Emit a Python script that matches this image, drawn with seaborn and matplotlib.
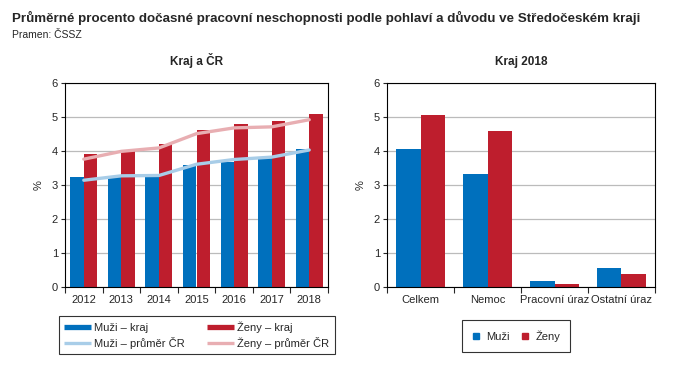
import pandas as pd
import numpy as np
import matplotlib.pyplot as plt
import seaborn as sns
from matplotlib.lines import Line2D

# data
years = ['2012', '2013', '2014', '2015', '2016', '2017', '2018']
muzi_kraj = [3.23, 3.27, 3.28, 3.60, 3.67, 3.82, 4.07]
zeny_kraj = [3.92, 4.00, 4.22, 4.63, 4.80, 4.89, 5.10]
muzi_cr = [3.14, 3.27, 3.28, 3.61, 3.75, 3.82, 4.03]
zeny_cr = [3.76, 3.99, 4.09, 4.51, 4.68, 4.71, 4.92]

duvody = ['Celkem', 'Nemoc', 'Pracovní úraz', 'Ostatní úraz']
muzi_2018 = [4.07, 3.33, 0.19, 0.57]
zeny_2018 = [5.07, 4.60, 0.10, 0.39]

blue = '#0070BD'
red = '#BE1E2D'
lblue = '#A8CDE8'
pink = '#E8AEB2'

sns.set_style('white')
plt.rcParams['font.family'] = ['Liberation Sans', 'DejaVu Sans']

fig = plt.figure(figsize=(6.8, 3.68), dpi=100)
ax1 = fig.add_axes([65/680, 1-287/368, 263/680, 204/368])
ax2 = fig.add_axes([387/680, 1-287/368, 268/680, 204/368])

fig.text(12/680, 1-18/368, 'Průměrné procento dočasné pracovní neschopnosti podle pohlaví a důvodu ve Středočeském kraji',
         fontsize=9.6, fontweight='bold', va='center')
fig.text(12/680, 1-35/368, 'Pramen: ČSSZ', fontsize=7.5, va='center')

# left chart
df1 = pd.DataFrame({'rok': years * 2,
                    'val': muzi_kraj + zeny_kraj,
                    'serie': ['Muži – kraj'] * 7 + ['Ženy – kraj'] * 7})
sns.barplot(data=df1, x='rok', y='val', hue='serie', palette=[blue, red],
            width=0.72, saturation=1, linewidth=0, ax=ax1, legend=False)
pos = np.arange(len(years))
sns.lineplot(x=pos, y=muzi_cr, color=lblue, linewidth=2.4, ax=ax1)
sns.lineplot(x=pos, y=zeny_cr, color=pink, linewidth=2.4, ax=ax1)
ax1.set_title('Kraj a ČR', fontsize=8.5, fontweight='bold', pad=13)

# right chart
df2 = pd.DataFrame({'duvod': duvody * 2,
                    'val': muzi_2018 + zeny_2018,
                    'serie': ['Muži'] * 4 + ['Ženy'] * 4})
sns.barplot(data=df2, x='duvod', y='val', hue='serie', palette=[blue, red],
            width=0.72, saturation=1, linewidth=0, ax=ax2, legend=False)
ax2.set_title('Kraj 2018', fontsize=8.5, fontweight='bold', pad=13)

for ax, n in [(ax1, len(years)), (ax2, len(duvody))]:
    ax.set_xlim(-0.5, n - 0.5)
    ax.set_ylim(0, 6)
    ax.set_yticks(range(7))
    ax.grid(axis='y', color='#BBBBBB', linewidth=0.9)
    ax.set_axisbelow(True)
    ax.set_xlabel('')
    ax.set_ylabel('%', fontsize=8, labelpad=6)
    for s in ax.spines.values():
        s.set_color('black')
        s.set_linewidth(0.8)
    ax.tick_params(axis='y', length=3, width=0.8, labelsize=8, left=True, pad=2)
    ax.tick_params(axis='x', which='major', length=0, labelsize=8, pad=6)
    ax.set_xticks(np.arange(-0.5, n), minor=True)
    ax.tick_params(axis='x', which='minor', length=4, width=0.8, bottom=True)

# legends
h1 = [Line2D([], [], color=blue, lw=3.8, solid_capstyle='butt', label='Muži – kraj'),
      Line2D([], [], color=lblue, lw=2.4, solid_capstyle='butt', label='Muži – průměr ČR'),
      Line2D([], [], color=red, lw=3.8, solid_capstyle='butt', label='Ženy – kraj'),
      Line2D([], [], color=pink, lw=2.4, solid_capstyle='butt', label='Ženy – průměr ČR')]
leg1 = fig.legend(handles=h1, ncol=2, loc='center', bbox_to_anchor=(197/680, 1-335/368),
                  fontsize=8, frameon=True, fancybox=False, edgecolor='black',
                  handlelength=2.4, handletextpad=0.3, columnspacing=2.0,
                  borderpad=0.45, labelspacing=0.4)
leg1.get_frame().set_linewidth(0.8)

h2 = [Line2D([], [], color=blue, lw=0, marker='s', markersize=4.5, label='Muži'),
      Line2D([], [], color=red, lw=0, marker='s', markersize=4.5, label='Ženy')]
leg2 = fig.legend(handles=h2, ncol=2, loc='center', bbox_to_anchor=(516/680, 1-336/368),
                  fontsize=8, frameon=True, fancybox=False, edgecolor='black',
                  handlelength=0.8, handletextpad=0.5, columnspacing=1.0, borderpad=0.9)
leg2.get_frame().set_linewidth(0.8)

fig.savefig('out.png', dpi=100)
